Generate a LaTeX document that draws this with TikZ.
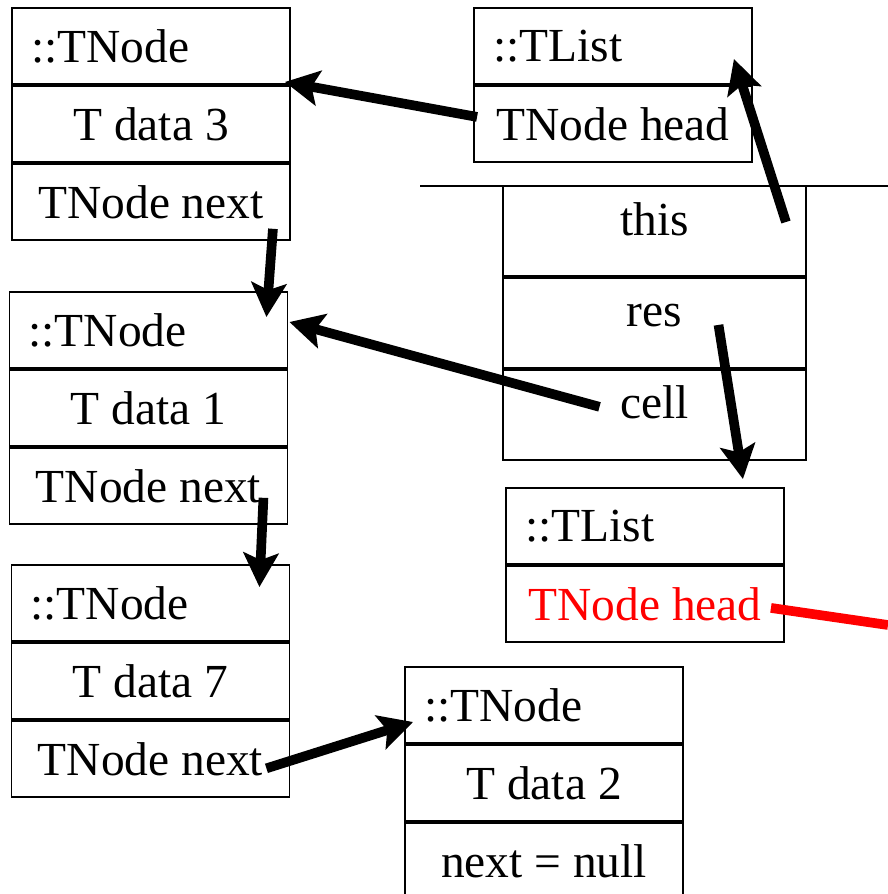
\documentclass[tikz,border=0pt]{standalone}
\usepackage{fontspec}
\setmainfont{Liberation Serif}
\usetikzlibrary{arrows.meta, calc, positioning}
\definecolor{linkred}{RGB}{255,0,0}

\begin{document}
\begin{tikzpicture}[x=0.02cm, y=-0.02cm,
  >={Stealth[length=0.68cm, width=0.7cm, inset=0.14cm]},
  cell/.style={draw, line width=1.1pt, minimum width=5.56cm, minimum height=1.52cm,
               inner sep=0pt, font=\fontsize{27}{30}\selectfont},
  headcell/.style={cell, align=left, inner xsep=0.38cm, text width=4.8cm},
  framecell/.style={cell, minimum width=6.06cm, minimum height=1.8cm,
                    text height=0.6cm, text depth=0.44cm},
  link/.style={->, line width=5.5pt}]
  \useasboundingbox (0,0) rectangle (888,894);

  \node[headcell] (a1) at (151,46) {::TNode};
  \node[cell, below=0pt of a1] (a2) {T data 3};
  \node[cell, below=0pt of a2] (a3) {TNode next};

  \node[headcell] (b1) at (148.5,330) {::TNode};
  \node[cell, below=0pt of b1] (b2) {T data 1};
  \node[cell, below=0pt of b2] (b3) {TNode next};

  \node[headcell] (c1) at (150.5,603) {::TNode};
  \node[cell, below=0pt of c1] (c2) {T data 7};
  \node[cell, below=0pt of c2] (c3) {TNode next};

  \node[headcell] (d1) at (544,705) {::TNode};
  \node[cell, below=0pt of d1] (d2) {T data 2};
  \node[cell, below=0pt of d2] (d3) {next = null};

  \node[headcell] (la1) at (613,46) {::TList};
  \node[cell, below=0pt of la1] (la2) {TNode head};

  \draw[line width=1.1pt] (420,186) -- (888,186);
  \node[framecell] (fthis) at (654.5,231) {this};
  \node[framecell, below=0pt of fthis] (fres) {res};
  \node[framecell, below=0pt of fres] (fcell) {cell};

  \node[headcell] (lb1) at (645,526) {::TList};
  \node[cell, below=0pt of lb1, text=linkred] (lb2) {TNode head};

  \draw[link] ($(la2.west)+(4,-7)$) -- ($(a1.south east)+(-6,-3)$);
  \draw[link] ($(fthis.east)+(-21,-9)$) -- ($(la1.south east)+(-19,-26)$);
  \draw[link] ($(a3.south east)+(-18,-12)$) -- ($(b1.north east)+(-22,26)$);
  \draw[link] ($(fcell.center)+(-55,-8)$) -- ($(b1.east)+(1,-8)$);
  \draw[link] ($(fres.center)+(64,2)$) -- ($(lb1.north east)+(-42,-8)$);
  \draw[link] ($(b3.south east)+(-25,-27)$) -- ($(c1.north east)+(-31,23)$);
  \draw[link] ($(c3.east)+(-24,9.5)$) -- ($(d1.west)+(9,17)$);
  \coordinate (redend) at (888,625);
  \draw[linkred, line width=5.5pt] ($(lb2.east)+(-14,4)$) -- (redend);
\end{tikzpicture}
\end{document}
